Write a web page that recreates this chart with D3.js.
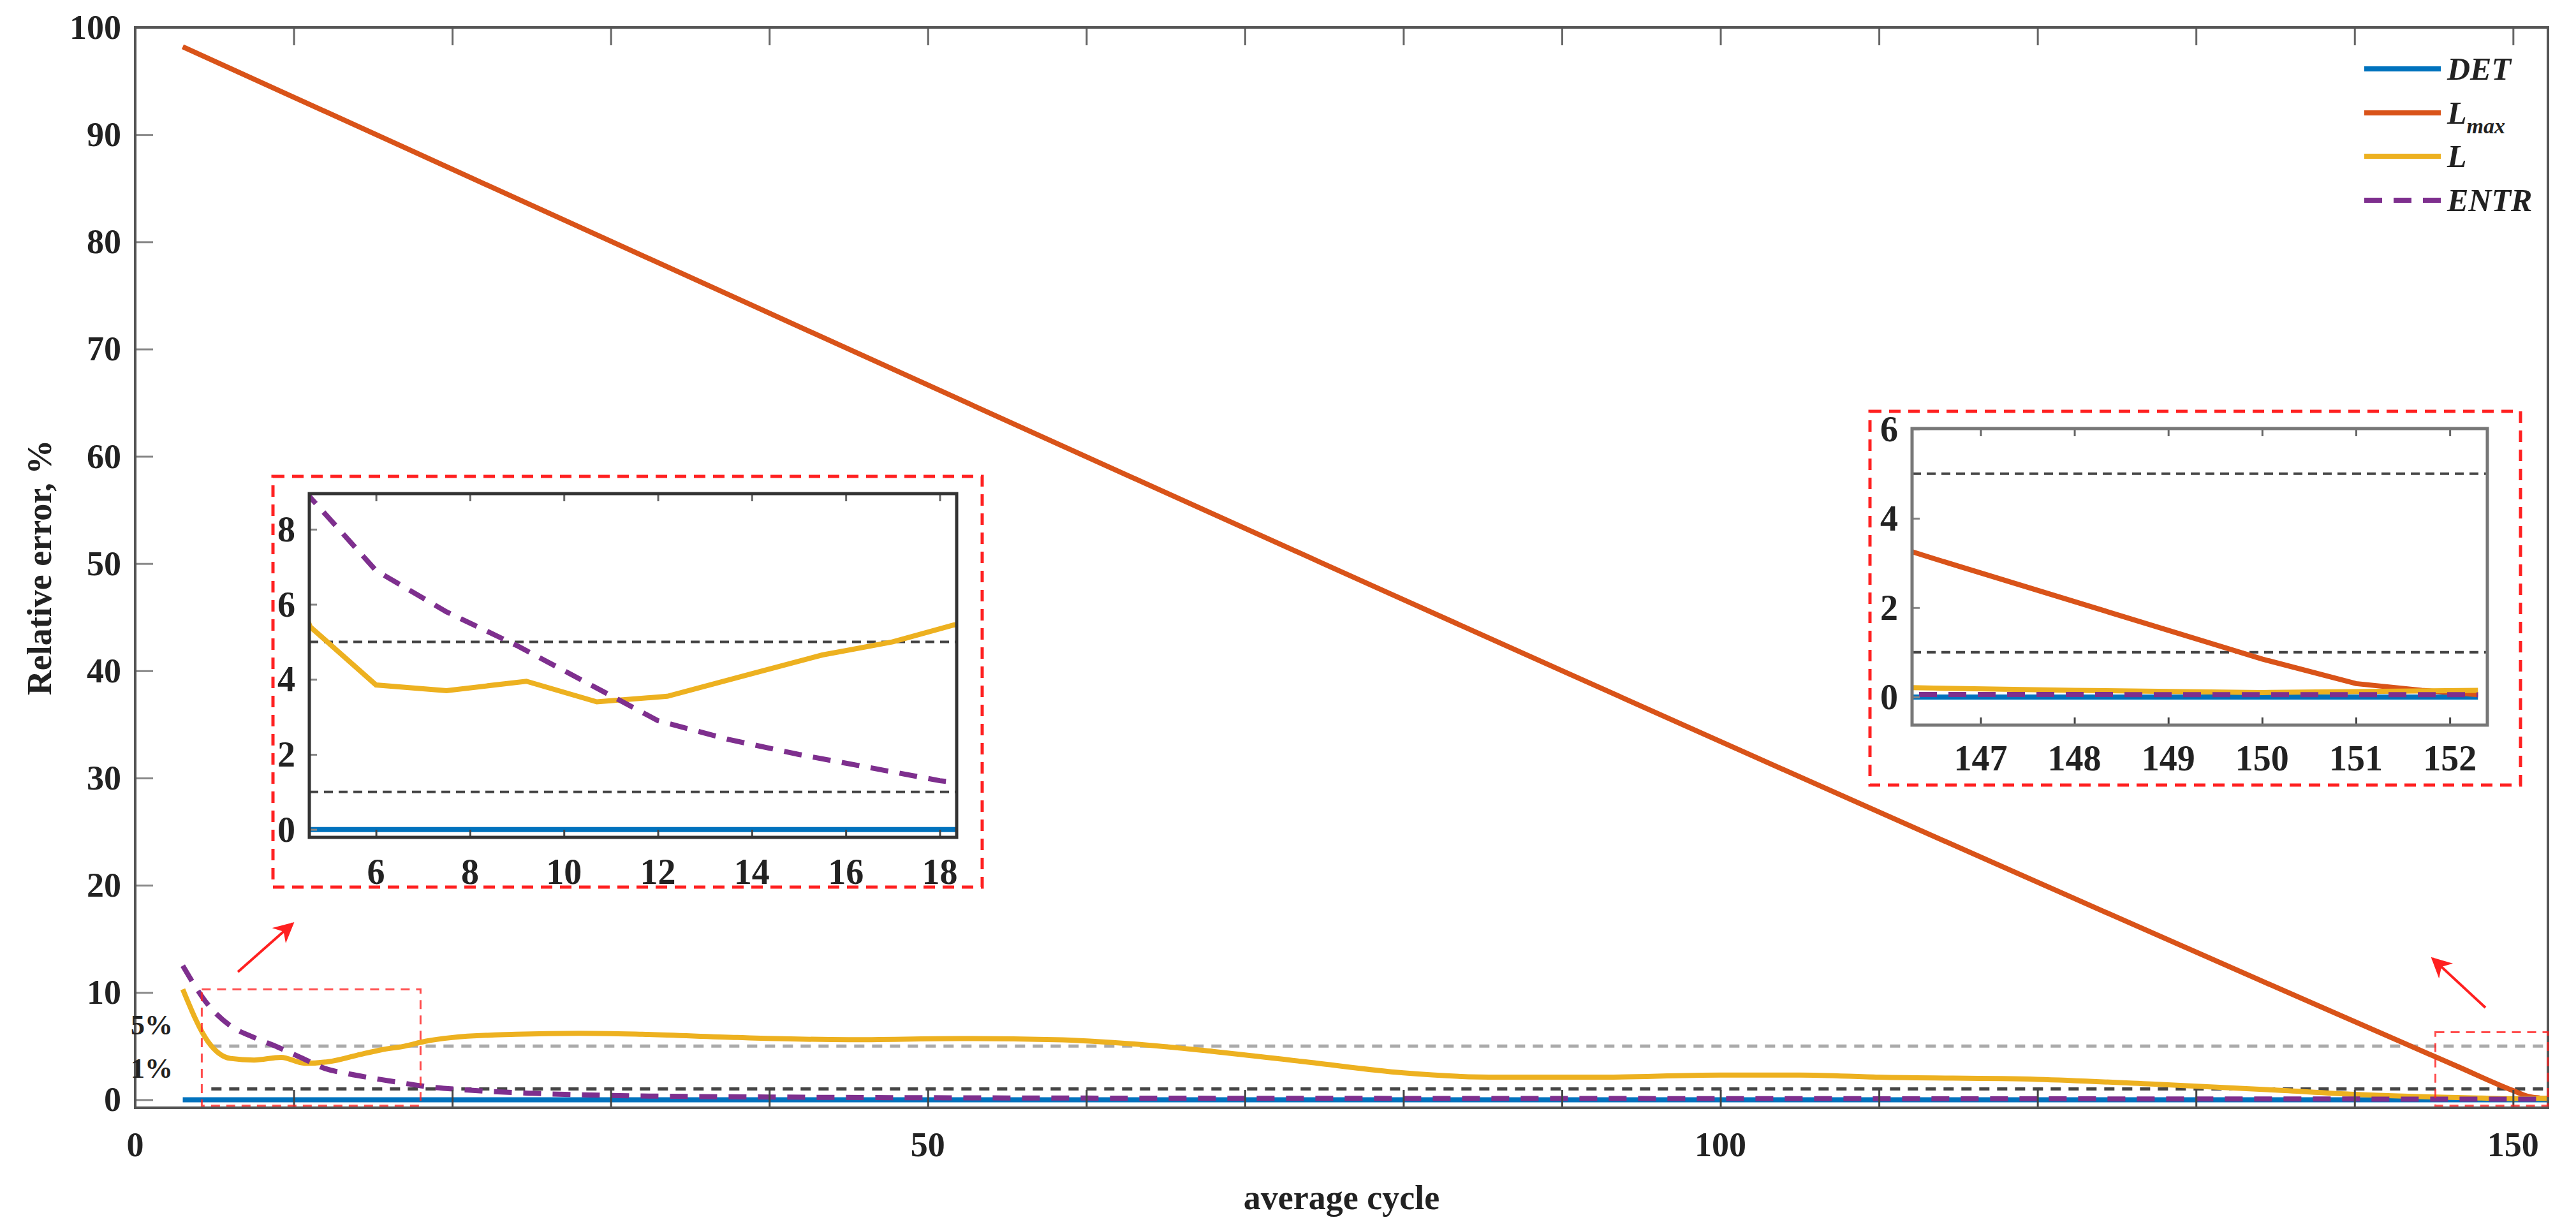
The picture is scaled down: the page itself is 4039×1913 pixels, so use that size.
<!DOCTYPE html>
<html><head><meta charset="utf-8">
<script src="https://cdn.jsdelivr.net/npm/d3@7"></script>
<style>body{margin:0;background:#fff}text{font-family:"Liberation Serif",serif;font-weight:bold;fill:#222}</style>
</head><body><svg id="c" width="4039" height="1913"></svg>
<script>
const xTickLabels=[0,50,100,150];
const yTickLabels=[0,10,20,30,40,50,60,70,80,90,100];
const thresholds=[5,1];
const detX=[3,152.3], detY=[0,0];
const lmaxX=[3,146.5,150,151,151.7,152.3];
const lmaxY=[98.2,3.1,0.85,0.3,0.15,0.05];
const lX=[3,4.6,6,7.5,9.2,10.7,12.2,14,15.5,17,18.3,20,24,28,32,38,45,52,58,63,68,74,80,86,92,100,105,110,120,128,135,140,146.5,148,150,152.3];
const lY=[10.3,5.4,3.85,3.7,3.95,3.4,3.55,4.15,4.65,5.0,5.45,5.8,6.1,6.2,6.1,5.8,5.6,5.7,5.6,5.2,4.5,3.5,2.5,2.1,2.1,2.3,2.3,2.1,1.9,1.4,0.9,0.5,0.2,0.15,0.1,0.15];
const entrX=[3,4.6,6,7.5,9,10.5,12,13.5,15,16.5,18,21,25,30,40,60,100,152.3];
const entrY=[12.5,8.85,6.9,5.8,4.9,3.9,2.9,2.4,2.0,1.65,1.3,0.9,0.6,0.4,0.25,0.15,0.1,0.05];
const inset1X=[6,8,10,12,14,16,18], inset1Y=[0,2,4,6,8];
const inset2X=[147,148,149,150,151,152], inset2Y=[0,2,4,6];

const series=[
 {name:"DET",x:detX,y:detY,c:"#0072BD",dash:null},
 {name:"Lmax",x:lmaxX,y:lmaxY,c:"#D95319",dash:null},
 {name:"L",x:lX,y:lY,c:"#EDB120",dash:null},
 {name:"ENTR",x:entrX,y:entrY,c:"#7E2F8E",dash:"28,18"}
];
const svg=d3.select("#c");
function panel(g,x,y,opt){
  const [x0,x1]=x.range(),[y1,y0]=y.range();
  const id="clip"+opt.id;
  svg.append("clipPath").attr("id",id).append("rect").attr("x",x0).attr("y",y0).attr("width",x1-x0).attr("height",y1-y0);
  thresholds.forEach((t,i)=>{
    g.append("line").attr("x1",opt.thrStart!=null?x(opt.thrStart):x0).attr("x2",x1).attr("y1",y(t)).attr("y2",y(t))
     .attr("stroke",opt.main&&i==0?"#aaa":"#444").attr("stroke-width",opt.main?5:4).attr("stroke-dasharray",opt.main?"16,12":"14,9");
  });
  const line=d3.line().x(d=>x(d[0])).y(d=>y(d[1])).curve(opt.main?d3.curveMonotoneX:d3.curveLinear);
  const cg=g.append("g").attr("clip-path",`url(#${id})`);
  series.forEach(s=>{
    cg.append("path").attr("d",line(s.x.map((v,i)=>[v,s.y[i]]))).attr("fill","none")
      .attr("stroke",s.c).attr("stroke-width",8).attr("stroke-dasharray",s.dash);
  });
  g.append("g").attr("transform",`translate(0,${y1})`).call(d3.axisBottom(x).tickValues(opt.xt).tickSize(-opt.tl).tickFormat(""))
    .call(a=>{a.select(".domain").remove();a.selectAll("line").attr("stroke","#444").attr("stroke-width",3);});
  g.append("g").attr("transform",`translate(${x0},0)`).call(d3.axisLeft(y).tickValues(opt.yt).tickSize(-opt.tl).tickFormat(""))
    .call(a=>{a.select(".domain").remove();a.selectAll("line").attr("stroke","#888").attr("stroke-width",3);});
  g.append("g").attr("transform",`translate(0,${y0})`).call(d3.axisTop(x).tickValues(opt.xt).tickSize(-opt.tl).tickFormat(""))
    .call(a=>{a.select(".domain").remove();a.selectAll("line").attr("stroke","#666").attr("stroke-width",3);});
  g.append("rect").attr("x",x0).attr("y",y0).attr("width",x1-x0).attr("height",y1-y0).attr("fill","none").attr("stroke",opt.frame).attr("stroke-width",opt.main?4:5);
  g.selectAll(".xl").data(opt.xl).join("text").attr("x",d=>x(d)).attr("y",opt.xly).attr("text-anchor","middle").attr("dominant-baseline","central").attr("font-size",opt.fs).text(d=>d);
  g.selectAll(".yl").data(opt.yl).join("text").attr("x",opt.ylx).attr("y",d=>y(d)).attr("text-anchor",opt.main?"end":"middle").attr("dominant-baseline","central").attr("font-size",opt.fs).text(d=>d);
}
const X=d3.scaleLinear().domain([0,152.2]).range([212,3995]);
const Y=d3.scaleLinear().domain([-0.75,100]).range([1737,43]);
const gm=svg.append("g");
panel(gm,X,Y,{id:"m",main:true,xt:d3.range(0,151,10),yt:yTickLabels,tl:28,frame:"#555",xl:xTickLabels,xly:1795,yl:yTickLabels,ylx:190,fs:54,thrStart:4.8});
gm.append("text").attr("x",238).attr("y",Y(5)-18).attr("text-anchor","middle").attr("font-size",44).attr("font-weight","normal").text("5%");
gm.append("text").attr("x",238).attr("y",Y(1)-18).attr("text-anchor","middle").attr("font-size",44).attr("font-weight","normal").text("1%");
svg.append("text").attr("transform",`translate(62,${(43+1737)/2}) rotate(-90)`).attr("text-anchor","middle").attr("dominant-baseline","central").attr("font-size",54).text("Relative error, %");
svg.append("text").attr("x",(212+3995)/2).attr("y",1878).attr("text-anchor","middle").attr("dominant-baseline","central").attr("font-size",54).text("average cycle");
const red="#ff2020";
[[4.2,18.0,10.3,-0.55],[145.1,152.2,6.3,-0.55]].forEach(b=>{
  svg.append("rect").attr("x",X(b[0])).attr("y",Y(b[2])).attr("width",X(b[1])-X(b[0])).attr("height",Y(b[3])-Y(b[2]))
   .attr("fill","none").attr("stroke",red).attr("stroke-width",3).attr("stroke-dasharray","14,10").attr("opacity",0.8);
});
svg.append("defs").append("marker").attr("id","ah").attr("viewBox","0 0 10 10").attr("refX",9).attr("refY",5).attr("markerWidth",8).attr("markerHeight",8).attr("orient","auto")
 .append("path").attr("d","M0,0 L10,5 L0,10 L3,5 Z").attr("fill",red);
[[373,1524,459,1448],[3897,1580,3814,1503]].forEach(a=>{
  svg.append("line").attr("x1",a[0]).attr("y1",a[1]).attr("x2",a[2]).attr("y2",a[3]).attr("stroke",red).attr("stroke-width",4).attr("marker-end","url(#ah)");
});
svg.append("rect").attr("x",428).attr("y",747).attr("width",1112).attr("height",644).attr("fill","#fff").attr("stroke",red).attr("stroke-width",5).attr("stroke-dasharray","18,12");
const X1=d3.scaleLinear().domain([4.58,18.36]).range([485,1500]);
const Y1=d3.scaleLinear().domain([-0.21,8.95]).range([1313,774]);
panel(svg.append("g"),X1,Y1,{id:"i1",main:false,xt:inset1X,yt:inset1Y,tl:12,frame:"#333",xl:inset1X,xly:1367,yl:inset1Y,ylx:449,fs:56});
svg.append("rect").attr("x",2932).attr("y",645).attr("width",1020).attr("height",586).attr("fill","#fff").attr("stroke",red).attr("stroke-width",5).attr("stroke-dasharray","18,12");
const X2=d3.scaleLinear().domain([146.27,152.4]).range([2998,3900]);
const Y2=d3.scaleLinear().domain([-0.63,6.01]).range([1137,672]);
panel(svg.append("g"),X2,Y2,{id:"i2",main:false,xt:inset2X,yt:inset2Y,tl:12,frame:"#777",xl:inset2X,xly:1189,yl:inset2Y,ylx:2962,fs:56});
const lg=svg.append("g");
const legY=[108,177,245,314];
series.forEach((s,i)=>{
  lg.append("line").attr("x1",3707).attr("x2",3827).attr("y1",legY[i]).attr("y2",legY[i]).attr("stroke",s.c).attr("stroke-width",8).attr("stroke-dasharray",s.dash);
  const t=lg.append("text").attr("x",3837).attr("y",legY[i]).attr("dominant-baseline","central").attr("font-size",50).attr("font-style","italic");
  if(s.name==="Lmax"){t.append("tspan").text("L");t.append("tspan").attr("font-size",34).attr("dy",20).text("max");}
  else t.text(s.name);
});
</script></body></html>
